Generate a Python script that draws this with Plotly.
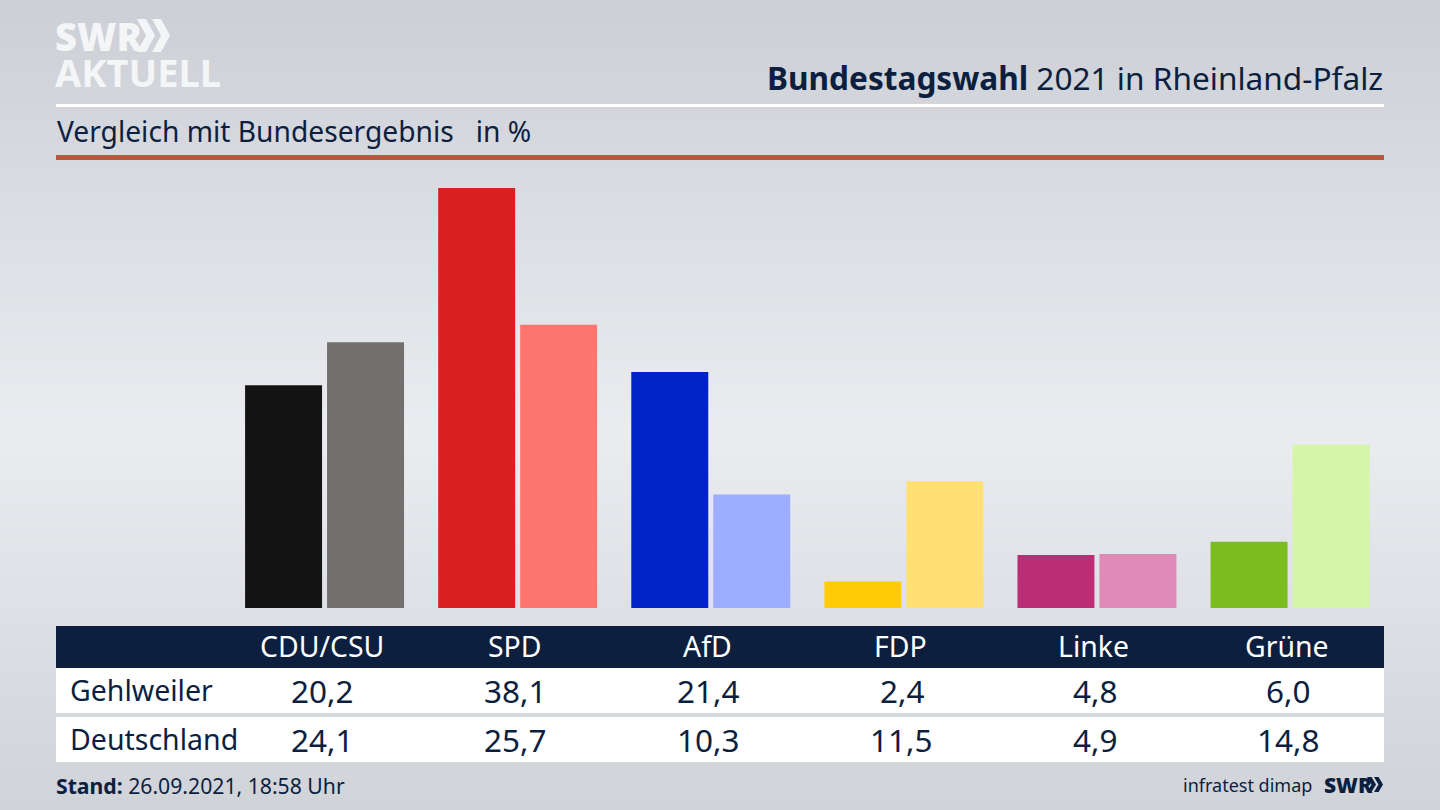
import plotly.graph_objects as go

W, H = 1440, 810
FONT = "Noto Sans"
NAVY = "#0c1f3f"
LOGO = "#f4f5f7"

parties = ["CDU/CSU", "SPD", "AfD", "FDP", "Linke", "Grüne"]
gehlweiler = [20.2, 38.1, 21.4, 2.4, 4.8, 6.0]
deutschland = [24.1, 25.7, 10.3, 11.5, 4.9, 14.8]
colors_dark = ["#131313", "#d8201e", "#0023c8", "#ffcc07", "#bb2e76", "#7abd1c"]
colors_light = ["#72706e", "#ff7570", "#9dadff", "#ffe073", "#e08ab8", "#d3f6a8"]
row_names = ["Gehlweiler", "Deutschland"]


def px(x):
    return x / W


def py(y):
    return 1 - y / H


def rect(x0, y0, x1, y1, color, layer="below"):
    return dict(type="rect", xref="paper", yref="paper", x0=px(x0), x1=px(x1),
                y0=py(y0), y1=py(y1), fillcolor=color, line_width=0, layer=layer)


def label(text, x, y, size, color=NAVY, anchor="left", weight=None, **kw):
    font = dict(family=FONT, size=size, color=color)
    if weight:
        font["weight"] = weight
    return dict(text=text, x=px(x), y=py(y), xref="paper", yref="paper", showarrow=False,
                xanchor=anchor, yanchor="middle", align=anchor, borderpad=0, borderwidth=0,
                font=font, **kw)


def chevrons(x, y, h, w, t, step, color):
    # the two arrows of the SWR logo
    out = []
    for i in range(2):
        a = x + i * step
        path = (f"M{px(a)},{py(y)} L{px(a + t)},{py(y)} L{px(a + w)},{py(y + h / 2)} "
                f"L{px(a + t)},{py(y + h)} L{px(a)},{py(y + h)} L{px(a + w - t)},{py(y + h / 2)} Z")
        out.append(dict(type="path", xref="paper", yref="paper", path=path,
                        fillcolor=color, line_width=0, layer="above"))
    return out


def fmt(v):
    return f"{v:.1f}".replace(".", ",")


fig = go.Figure()
fig.add_bar(x=parties, y=gehlweiler, marker=dict(color=colors_dark, line_width=0), hoverinfo="skip")
fig.add_bar(x=parties, y=deutschland, marker=dict(color=colors_light, line_width=0), hoverinfo="skip")

# background gradient as thin bands, darker at top and bottom
shapes = []
top, mid = (204, 207, 213), (234, 236, 240)
for i in range(0, H, 6):
    t = max(1 - abs(i - 430) / 430, 0)
    c = [round(top[k] + (mid[k] - top[k]) * t) for k in range(3)]
    shapes.append(rect(0, i, W, i + 6, f"rgb({c[0]},{c[1]},{c[2]})"))

shapes += [
    rect(56, 104, 1384, 107, "white"),
    rect(56, 155, 1384, 160, "#c9503d"),
    rect(56, 626, 1384, 668, NAVY),
    rect(56, 668, 1384, 713, "white"),
    rect(56, 717, 1384, 762, "white"),
]
shapes += chevrons(137, 19, 33, 18, 9, 15, LOGO)
shapes += chevrons(1367, 777, 15, 9, 4.5, 7, NAVY)

annotations = [
    label("SWR", 55, 36, 38, LOGO, weight=900, height=34),
    label("AKTUELL", 55, 72, 38, LOGO, weight=700, height=34),
    label("<b>Bundestagswahl</b> 2021 in Rheinland-Pfalz", 1383, 77, 31.6, anchor="right"),
    label("Vergleich mit Bundesergebnis   in %", 57, 131, 28.2),
    label("<b>Stand:</b> 26.09.2021, 18:58 Uhr", 56, 785, 21.2),
    label("infratest dimap", 1312, 785, 18, anchor="right"),
    label("SWR", 1324, 785, 21, weight=900),
    label(row_names[0], 70, 690, 28.5),
    label(row_names[1], 70, 739, 28.5),
]

# table cells follow the bar groups on the category axis
for i, party in enumerate(parties):
    for text, y, color, size, shift in [(party, 646, "white", 28.4, -3),
                                        (fmt(gehlweiler[i]), 690, NAVY, 31.5, -2),
                                        (fmt(deutschland[i]), 739, NAVY, 31.5, -2)]:
        annotations.append(dict(text=text, x=party, xref="x", y=py(y), yref="paper",
                                showarrow=False, xanchor="center", yanchor="middle", xshift=shift,
                                font=dict(family=FONT, size=size, color=color)))

fig.update_layout(
    width=W, height=H,
    margin=dict(l=0, r=0, t=0, b=0),
    paper_bgcolor="#e0e2e6",
    plot_bgcolor="rgba(0,0,0,0)",
    showlegend=False,
    barmode="group",
    bargap=0.151,
    bargroupgap=0.061,
    shapes=shapes,
    annotations=annotations,
    xaxis=dict(domain=[px(228), px(1386.6)], visible=False, categoryorder="array", categoryarray=parties),
    yaxis=dict(domain=[py(608), py(167)], range=[0, 40], visible=False),
)

fig.write_html("out.html", config={"displayModeBar": False},
               post_script="document.body.style.margin='0';document.body.style.overflow='hidden';")
